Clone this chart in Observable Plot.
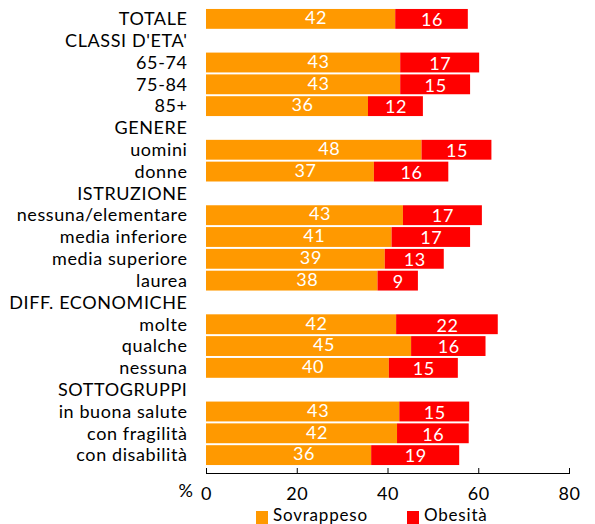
<!DOCTYPE html>
<html>
<head>
<meta charset="utf-8">
<script src="https://cdn.jsdelivr.net/npm/d3@7"></script>
<script src="https://cdn.jsdelivr.net/npm/@observablehq/plot@0.6"></script>
<style>
  html, body { margin: 0; padding: 0; background: #fff; }
  #chart { width: 595px; font-family: Lato, sans-serif; }
  #chart svg text { letter-spacing: 0.6px; }
  .legend { position: relative; height: 19px; margin-top: 0px; font-size: 17px; line-height: 19px; color: #000; font-family: Lato, sans-serif; letter-spacing: 0.8px; }
  .legend .item { position: absolute; top: 0; white-space: nowrap; }
  .legend .sw { position: absolute; left: 0; top: 6px; width: 12px; height: 13px; }
  .legend .lbl { position: absolute; left: 17px; top: 0; }
</style>
</head>
<body>
<div id="chart"></div>
<script>
const categories = [
  "TOTALE", "CLASSI D'ETA'", "65-74", "75-84", "85+",
  "GENERE", "uomini", "donne",
  "ISTRUZIONE", "nessuna/elementare", "media inferiore", "media superiore", "laurea",
  "DIFF. ECONOMICHE", "molte", "qualche", "nessuna",
  "SOTTOGRUPPI", "in buona salute", "con fragilità", "con disabilità"
];
const sovrappeso = [41.7, null, 42.8, 42.8, 35.7, null, 47.5, 37.0, null, 43.4, 40.9, 39.4, 37.8, null, 41.9, 45.2, 40.3, null, 42.6, 42.1, 36.4];
const obesita    = [16.0, null, 17.4, 15.4, 12.1, null, 15.4, 16.4, null, 17.4, 17.3, 13.0, 8.9, null, 22.4, 16.4, 15.2, null, 15.4, 15.8, 19.4];
const seriesNames = ["Sovrappeso", "Obesità"];
const seriesColors = ["#FF9900", "#FF0000"];
const xTicks = [0, 20, 40, 60, 80];

const data = [];
categories.forEach((c, i) => {
  if (sovrappeso[i] != null) data.push({cat: c, series: seriesNames[0], value: sovrappeso[i]});
  if (obesita[i] != null) data.push({cat: c, series: seriesNames[1], value: obesita[i]});
});

const font = "Lato, sans-serif";
const fs = 18;
const stackOpts = {x: "value", y: "cat", z: "series", order: seriesNames};
const chart = Plot.plot({
  width: 595,
  height: 505,
  marginLeft: 206,
  marginRight: 26,
  marginTop: 7,
  marginBottom: 32,
  style: {fontFamily: font, fontSize: fs + "px", color: "#000", background: "#fff"},
  x: {domain: [0, 80], ticks: xTicks},
  y: {domain: categories, padding: 0.09, insetBottom: 6, round: false},
  color: {domain: seriesNames, range: seriesColors},
  marks: [
    Plot.barX(data, Plot.stackX({...stackOpts, fill: "series"})),
    Plot.text(data, Plot.stackX({...stackOpts,
      text: d => d.series === seriesNames[0] ? String(Math.round(d.value)) : null,
      fill: "white", fontSize: fs, dx: 15, dy: -1})),
    Plot.text(data, Plot.stackX({...stackOpts,
      text: d => d.series === seriesNames[1] ? String(Math.round(d.value)) : null,
      fill: "white", fontSize: fs, dy: 1})),
    Plot.frame({anchor: "bottom", stroke: "#000"}),
    Plot.axisX({ticks: xTicks, tickSize: -5, tickPadding: 19, fontSize: fs, label: null, stroke: "#000"}),
    Plot.axisY({tickSize: 0, tickPadding: 19, fontSize: fs, label: null}),
    Plot.text(["%"], {frameAnchor: "bottom-left", dx: -13, dy: 23, textAnchor: "end", fontSize: fs})
  ]
});
document.getElementById("chart").append(chart);

const legend = document.createElement("div");
legend.className = "legend";
const legendX = [256, 407];
seriesNames.forEach((name, i) => {
  const item = document.createElement("span");
  item.className = "item";
  item.style.left = legendX[i] + "px";
  const sw = document.createElement("span");
  sw.className = "sw";
  sw.style.background = seriesColors[i];
  const lbl = document.createElement("span");
  lbl.className = "lbl";
  lbl.textContent = name;
  item.append(sw, lbl);
  legend.append(item);
});
document.getElementById("chart").append(legend);
</script>
</body>
</html>
